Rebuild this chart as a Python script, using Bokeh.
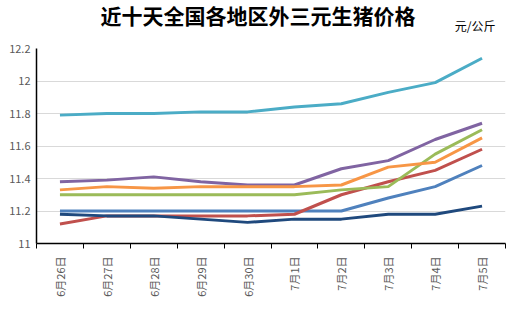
from bokeh.plotting import figure
from bokeh.models import (FixedTicker, CustomJSTickFormatter, Legend, LegendItem, Range1d, Title)
from bokeh.embed import file_html
from bokeh.resources import INLINE
import math

dates = ["6月26日", "6月27日", "6月28日", "6月29日", "6月30日", "7月1日", "7月2日", "7月3日", "7月4日", "7月5日"]
xinan = [11.20, 11.20, 11.20, 11.20, 11.20, 11.20, 11.20, 11.28, 11.35, 11.48]
xibei = [11.12, 11.17, 11.17, 11.17, 11.17, 11.18, 11.30, 11.38, 11.45, 11.58]
huanan = [11.30, 11.30, 11.30, 11.30, 11.30, 11.30, 11.33, 11.35, 11.55, 11.70]
huazhong = [11.38, 11.39, 11.41, 11.38, 11.36, 11.36, 11.46, 11.51, 11.64, 11.74]
huadong = [11.79, 11.80, 11.80, 11.81, 11.81, 11.84, 11.86, 11.93, 11.99, 12.14]
huabei = [11.33, 11.35, 11.34, 11.35, 11.35, 11.35, 11.36, 11.47, 11.50, 11.65]
dongbei = [11.18, 11.17, 11.17, 11.15, 11.13, 11.15, 11.15, 11.18, 11.18, 11.23]

series = [
    ("西南", xinan, "#4F81BD"),
    ("西北", xibei, "#C0504D"),
    ("华南", huanan, "#9BBB59"),
    ("华中", huazhong, "#8064A2"),
    ("华东", huadong, "#4BACC6"),
    ("华北", huabei, "#F79646"),
    ("东北", dongbei, "#1F497D"),
]
y_ticks = [11.0, 11.2, 11.4, 11.6, 11.8, 12.0, 12.2]

FONT = "Noto Sans CJK SC"
xs = list(range(len(dates)))

p = figure(width=517, height=333, frame_width=469, frame_height=195,
           output_backend="svg", toolbar_location=None,
           x_range=Range1d(-0.5, len(dates) - 0.5), y_range=Range1d(11.0, 12.2),
           min_border_left=36, min_border_right=12, min_border_top=48, min_border_bottom=0)
p.outline_line_color = None
p.background_fill_color = "white"
p.border_fill_color = "white"

items = []
for name, vals, col in series:
    r = p.line(xs, vals, line_color=col, line_width=3)
    items.append(LegendItem(label=name, renderers=[r]))

# x axis
p.xaxis.ticker = FixedTicker(ticks=xs, minor_ticks=[i - 0.5 for i in range(len(dates) + 1)])
p.xaxis.major_label_overrides = {i: d for i, d in enumerate(dates)}
p.xaxis.major_label_orientation = math.pi / 2
p.xaxis.major_tick_out = 0
p.xaxis.major_tick_in = 0
p.xaxis.minor_tick_out = 5
p.xaxis.minor_tick_in = 0
p.xaxis.minor_tick_line_color = "black"
p.xaxis.axis_line_color = "black"
p.xaxis.axis_line_width = 1.5
p.xaxis.major_label_text_font = FONT
p.xaxis.major_label_text_font_size = "11px"
p.xaxis.major_label_text_color = "#595959"
p.xaxis.major_label_standoff = 8

# y axis
p.yaxis.ticker = FixedTicker(ticks=y_ticks)
p.yaxis.formatter = CustomJSTickFormatter(code="return String(Math.round(tick*10)/10)")
p.yaxis.major_tick_out = 0
p.yaxis.major_tick_in = 0
p.yaxis.minor_tick_line_color = None
p.yaxis.axis_line_color = "black"
p.yaxis.axis_line_width = 1.5
p.yaxis.major_label_text_font = FONT
p.yaxis.major_label_text_font_size = "11px"
p.yaxis.major_label_text_color = "#595959"
p.yaxis.major_label_standoff = 6

p.xgrid.grid_line_color = None
p.ygrid.grid_line_color = "#D9D9D9"
p.ygrid.grid_line_width = 1

legend = Legend(items=items, orientation="horizontal", location="left",
                label_text_font=FONT, label_text_font_size="12px", label_text_color="#404040",
                glyph_width=28, glyph_height=14, label_standoff=3, spacing=4,
                padding=0, margin=9, border_line_color=None, background_fill_alpha=0)
p.add_layout(legend, "below")

unit = Title(text="元/公斤", text_font=FONT, text_font_size="12px", text_font_style="normal",
             align="right", offset=10, standoff=29, text_color="black")
p.add_layout(unit, "above")

title = Title(text="近十天全国各地区外三元生猪价格", text_font=FONT, text_font_style="bold",
              text_font_size="21px", align="left", offset=64, standoff=-58, text_color="black")
p.add_layout(title, "above")

open("out.html", "w").write(file_html(p, INLINE))
